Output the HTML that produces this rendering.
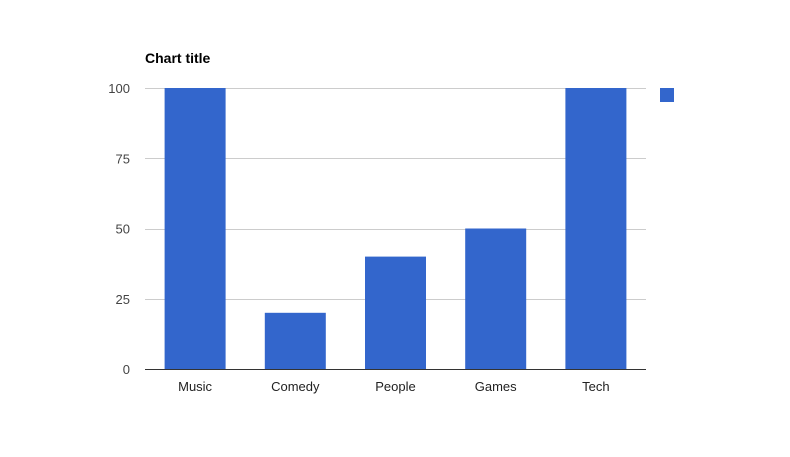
<!DOCTYPE html>
<html><head><meta charset="utf-8"><style>
body{margin:0;background:#fff;}
svg{display:block;font-family:"Liberation Sans",Arial,sans-serif;}
</style></head><body>
<svg id="chart" width="790" height="457">
<text x="145" y="63" font-size="14" font-weight="bold" fill="#000">Chart title</text>
<rect x="660" y="88" width="14" height="14" fill="#3366cc"/>
<g id="grid"></g><g id="bars"></g><g id="labels"></g>
</svg>
<script>
const categories = ["Music","Comedy","People","Games","Tech"];
const values = [100,20,40,50,100];
const ticks = [0,25,50,75,100];
const NS="http://www.w3.org/2000/svg";
const x0=145,x1=646,yBase=369,yTop=88,maxV=100;
function y(v){return yBase-(v/maxV)*(yBase-yTop);}
const band=(x1-x0)/categories.length;
function xc(i){return x0+band*i+band/2;}
const grid=document.getElementById('grid'),bars=document.getElementById('bars'),labels=document.getElementById('labels');
ticks.forEach(t=>{
  const l=document.createElementNS(NS,'line');
  l.setAttribute('x1',x0);l.setAttribute('x2',x1);
  l.setAttribute('y1',Math.round(y(t))+0.5);l.setAttribute('y2',Math.round(y(t))+0.5);
  l.setAttribute('stroke',t===0?'#333':'#ccc');
  
  
  grid.appendChild(l);
  const tx=document.createElementNS(NS,'text');
  tx.setAttribute('x',130);tx.setAttribute('y',y(t)+5);
  tx.setAttribute('text-anchor','end');tx.setAttribute('font-size','13');tx.setAttribute('fill','#444');
  tx.textContent=t;
  
  
  labels.appendChild(tx);
});
const bw=61;
categories.forEach((c,i)=>{
  const r=document.createElementNS(NS,'rect');
  r.setAttribute('x',xc(i)-bw/2);r.setAttribute('y',y(values[i]));
  r.setAttribute('width',bw);r.setAttribute('height',yBase-y(values[i]));
  r.setAttribute('fill','#3366cc');
  
  
  bars.appendChild(r);
  const tx=document.createElementNS(NS,'text');
  tx.setAttribute('x',xc(i));tx.setAttribute('y',391);
  tx.setAttribute('text-anchor','middle');tx.setAttribute('font-size','13');tx.setAttribute('fill','#222');
  tx.textContent=c;
  
  
  labels.appendChild(tx);
});
// baseline on top
const b=document.createElementNS(NS,'line');
b.setAttribute('x1',x0);b.setAttribute('x2',x1);b.setAttribute('y1',yBase+0.5);b.setAttribute('y2',yBase+0.5);b.setAttribute('stroke','#333');


document.getElementById('chart').appendChild(b);
</script>
</body></html>
